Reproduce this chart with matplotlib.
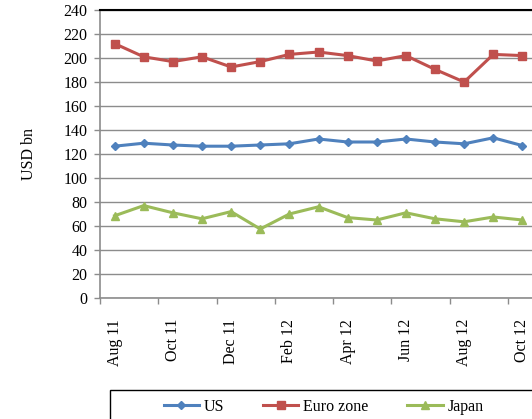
import matplotlib
matplotlib.use("Agg")
import matplotlib.pyplot as plt
from matplotlib.patches import Rectangle
import numpy as np

months = ["Aug 11", "Sep 11", "Oct 11", "Nov 11", "Dec 11", "Jan 12", "Feb 12", "Mar 12",
          "Apr 12", "May 12", "Jun 12", "Jul 12", "Aug 12", "Sep 12", "Oct 12"]
us = [126.5, 129, 127.5, 126.5, 126.5, 127.5, 128.5, 132.5, 130, 130, 132.5, 130, 128.5, 133.5, 127]
euro = [212, 201, 197, 201, 192.5, 197, 203, 205, 202, 197.5, 202, 190.5, 180, 203, 202]
japan = [68.5, 77, 71, 66, 72, 57.5, 70, 76, 67, 65, 71, 66, 63.5, 67.5, 65]
yticks = list(range(0, 241, 20))

plt.rcParams['font.family'] = ['Liberation Serif', 'DejaVu Serif']
W, H = 532, 419
fig = plt.figure(figsize=(W / 100, H / 100), dpi=100)
ax = fig.add_axes([100 / W, (H - 298) / H, 437 / W, 288 / H])

x = np.arange(len(months))
l1, = ax.plot(x, us, color='#4F81BD', lw=2.2, marker='D', ms=4.5, label='US', zorder=3)
l2, = ax.plot(x, euro, color='#C0504D', lw=2.2, marker='s', ms=5.5, label='Euro zone', zorder=3)
l3, = ax.plot(x, japan, color='#9BBB59', lw=2.2, marker='^', ms=6, label='Japan', zorder=3)

ax.set_xlim(-0.5, len(months) - 0.5)
ax.set_ylim(0, 240)
ax.set_yticks(yticks)
ax.set_yticklabels([str(v) for v in yticks], fontsize=11.5)
ax.yaxis.grid(True, color='#8c8c8c', lw=1.0)
ax.set_axisbelow(True)

ax.set_xticks(x[::2])
ax.set_xticklabels(months[::2], rotation=90, fontsize=11.5)
ax.set_xticks(np.arange(-0.5, len(months), 2), minor=True)
ax.tick_params(axis='x', which='major', length=0, pad=15)
ax.tick_params(axis='x', which='minor', length=4, color='#8c8c8c', width=1)
ax.tick_params(axis='y', length=4, color='#8c8c8c', width=1, pad=5)

for s in ['left', 'bottom']:
    ax.spines[s].set_color('#8c8c8c')
    ax.spines[s].set_linewidth(1.2)
ax.spines['right'].set_visible(False)
ax.spines['top'].set_color('black')
ax.spines['top'].set_linewidth(1.5)

ax.set_ylabel('USD bn', fontsize=11.5, labelpad=19)

fig.patches.append(Rectangle((110 / W, -0.05), 430 / W, (H - 390) / H + 0.05,
                             transform=fig.transFigure, fill=False, ec='black', lw=1.0))
fig.legend(handles=[l1, l2, l3], loc='center', bbox_to_anchor=(323.5 / W, (H - 407) / H),
           ncol=3, frameon=False, fontsize=11.5, handlelength=2.2, handletextpad=0.3,
           columnspacing=2.45, borderpad=0)

fig.savefig('out.png', dpi=100)
